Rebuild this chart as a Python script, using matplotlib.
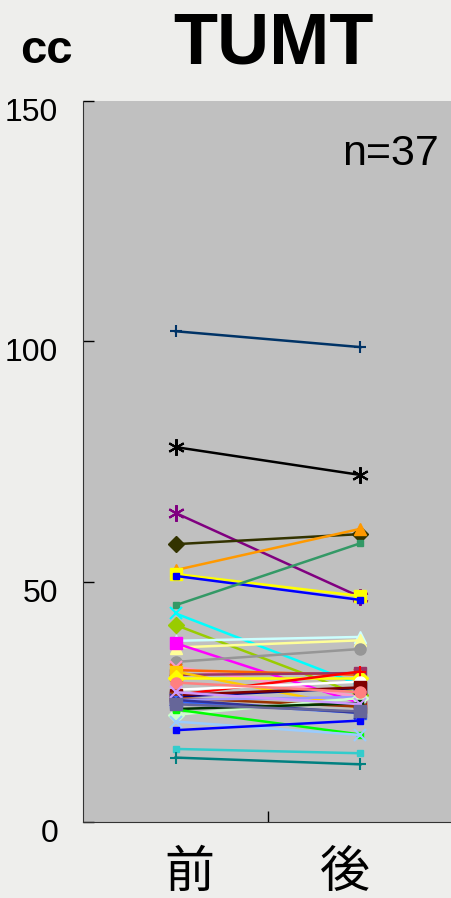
import matplotlib
matplotlib.use("Agg")
import matplotlib.pyplot as plt
import matplotlib.transforms as mtransforms

plt.rcParams['font.family'] = ['Liberation Sans', 'Noto Sans CJK JP', 'DejaVu Sans']

# data (cc, before / after)
stages = ['前', '後']
pre = [102.1, 78.0, 64.3, 57.8, 52.4, 51.6, 51.2, 45.1, 43.4, 41.0,
       37.7, 36.3, 37.2, 33.3, 32.3, 31.6, 30.6, 31.3, 30.0, 26.4,
       27.5, 26.1, 26.4, 25.8, 25.4, 25.0, 25.4, 22.3, 23.5, 23.4,
       20.9, 19.1, 15.2, 13.4, 29.0, 27.0, 24.5]
post = [98.8, 72.2, 46.8, 59.9, 61.0, 47.0, 46.2, 58.0, 28.5, 26.4,
        38.5, 37.8, 24.7, 36.0, 26.0, 30.6, 31.0, 23.7, 30.0, 31.3,
        29.2, 27.9, 28.0, 24.0, 26.0, 22.7, 22.7, 25.8, 24.7, 18.2,
        18.1, 21.1, 14.3, 12.0, 27.0, 24.5, 23.0]
colors = ['#003366', '#000000', '#800080', '#333300', '#FF9900', '#FFFF00', '#0000FF', '#339966', '#00FFFF', '#99CC00',
          '#CCFFFF', '#FFFF99', '#FF00FF', '#969696', '#FF99CC', '#FF6600', '#993366', '#FFCC00', '#FFFF00', '#FF0000',
          '#FFFFFF', '#000080', '#800000', '#993300', '#9999FF', '#3366FF', '#333399', '#CCFFCC', '#003300', '#00FF00',
          '#99CCFF', '#0000FF', '#33CCCC', '#008080', '#FF8080', '#CC99FF', '#666699']
ast = (6, 2, 0)
markers = ['+', ast, ast, 'D', '^', 's', 's', 's', 'x', 'D',
           '^', '^', 's', 'o', 'x', 'x', 's', 's', 'D', '+',
           'o', 's', 's', 's', 'x', 's', 'x', 'D', 's', 's',
           'x', 's', 's', '+', 'o', 'x', 's']

fig = plt.figure(figsize=(4.52, 8.98), dpi=100, facecolor='#eeeeec')
ax = fig.add_axes([83 / 452, 76 / 898, 370 / 452, 721 / 898])
ax.set_facecolor('#c0c0c0')

xs = [0.5, 1.5]
for a, b, c, m in zip(pre, post, colors, markers):
    small = m == 's' and c in ('#339966', '#33CCCC', '#00FF00', '#0000FF', '#003300')
    ms = 4.5 if small else 8
    mew = 1
    if m in ('+', 'x'):
        ms, mew = 9, 1.5
    elif m == ast:
        ms, mew = 12, 1.5
    ax.plot(xs, [a, b], color=c, lw=1.8, marker=m, ms=ms, mfc=c, mec=c,
            mew=mew, clip_on=False, zorder=3)

ax.set_xlim(0, 2)
ax.set_ylim(0, 150)
ax.set_yticks([0, 50, 100, 150])
ax.tick_params(axis='y', direction='in', length=8, width=1, pad=18, labelsize=23)
shift = mtransforms.ScaledTranslation(0, -6 / 72, fig.dpi_scale_trans)
for lab in ax.get_yticklabels():
    lab.set_transform(lab.get_transform() + shift)
ax.set_xticks([1])
ax.set_xticklabels([''])
ax.tick_params(axis='x', direction='in', length=8, width=1)
for s in ['top', 'right']:
    ax.spines[s].set_visible(False)
ax.spines['left'].set_color('#333333')
ax.spines['bottom'].set_color('#333333')

# category labels sit a little inside of the marker columns
trans = mtransforms.blended_transform_factory(ax.transData, fig.transFigure)
for x, lab in zip([0.576, 1.414], stages):
    ax.text(x, 1 - 887 / 898, lab, transform=trans, ha='center', va='baseline',
            fontsize=36, family='Noto Sans CJK JP')

fig.text(273 / 452, 1 - 63 / 898, 'TUMT', ha='center', va='baseline',
         fontsize=52, fontweight='bold')
fig.text(46 / 452, 1 - 63 / 898, 'cc', ha='center', va='baseline',
         fontsize=34, fontweight='bold')
fig.text(391 / 452, 1 - 165 / 898, 'n=37', ha='center', va='baseline', fontsize=31)

fig.savefig('out.png', dpi=100, facecolor=fig.get_facecolor())
